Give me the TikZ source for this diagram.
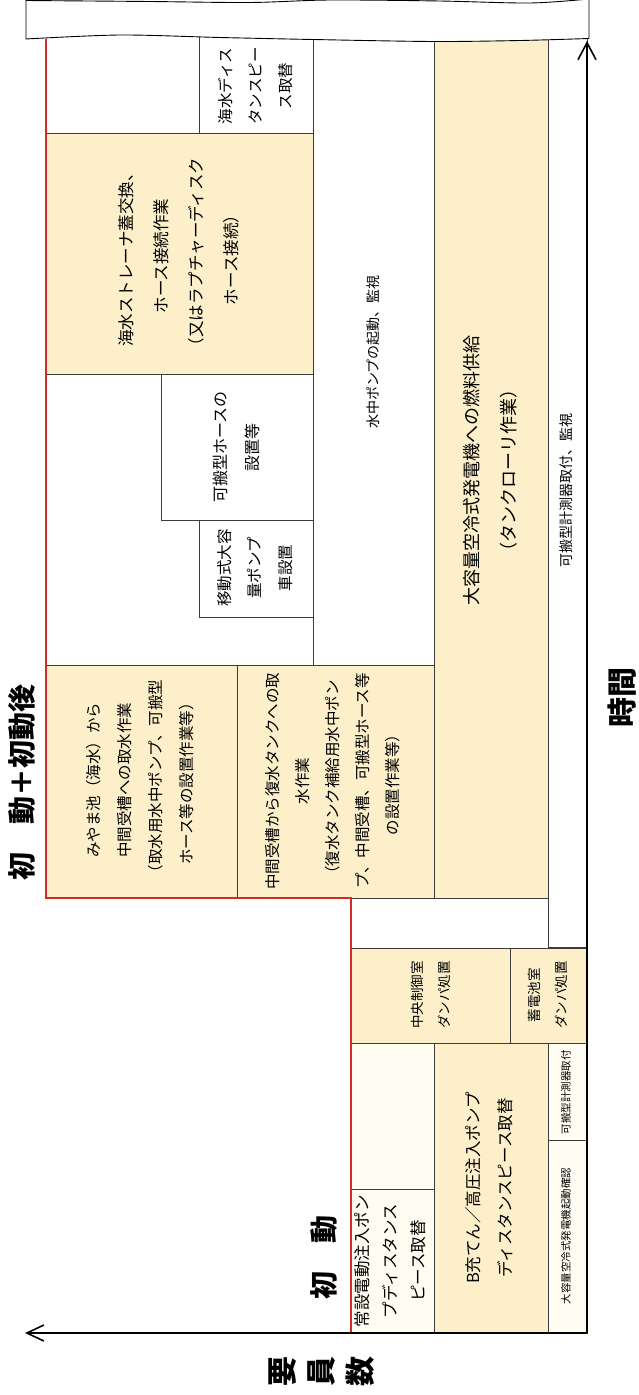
\documentclass[tikz,border=0pt]{standalone}
\usepackage{fontspec}
\setmainfont{Noto Sans CJK JP}
\usetikzlibrary{arrows.meta}
\definecolor{yel}{HTML}{FCEFCA}
\definecolor{crm}{HTML}{FFFDF2}
\definecolor{bd}{HTML}{3C3C3C}
\definecolor{redl}{HTML}{D42A2A}
\begin{document}
\begin{tikzpicture}[x=1pt,y=-1pt,
  yb/.style={fill=yel,draw=bd,line width=0.8pt},
  cb/.style={fill=crm,draw=bd,line width=0.8pt},
  wb/.style={fill=white,draw=bd,line width=0.8pt},
  lbl/.style={rotate=90,align=center,inner sep=0pt,text=black},
  big/.style={rotate=90,align=center,inner sep=0pt,font=\bfseries\fontsize{28}{30}\selectfont},
  axis/.style={line width=1.6pt,draw=black}
]
\useasboundingbox (0,0) rectangle (638,1395);
% boxes
\path[wb] (199,30) rectangle (313,133);
\path[yb] (46,133) rectangle (313,374);
\path[wb] (161,374) rectangle (313,520);
\path[wb] (199,520) rectangle (313,617);
\path[wb] (313,30) rectangle (434,665);
\path[yb] (434,30) rectangle (548,898);
\path[wb] (548,30) rectangle (587,947);
\path[yb] (46,665) rectangle (237,898);
\path[yb] (237,665) rectangle (434,898);
\path[yb] (351,948) rectangle (510,1043);
\path[yb] (510,948) rectangle (587,1043);
\path[cb] (351,1043) rectangle (434,1189);
\path[cb] (351,1189) rectangle (434,1333);
\path[yb] (434,1043) rectangle (548,1333);
\path[cb] (548,1043) rectangle (587,1140);
\path[cb] (548,1140) rectangle (587,1333);
% texts
\node[lbl,font=\fontsize{15.5}{30}\selectfont] (tseadist) at (256,86) {海水ディス\\タンスピー\\ス取替};
\node[lbl,font=\fontsize{16.5}{35}\selectfont] (tstrainer) at (179,256) {海水ストレーナ蓋交換、\\ホース接続作業\\（又はラプチャーディスク\\ホース接続）};
\node[lbl,font=\fontsize{16}{32}\selectfont] (those) at (236,447) {可搬型ホースの\\設置等};
\node[lbl,font=\fontsize{15.5}{30.5}\selectfont] (tmobile) at (255,568) {移動式大容\\量ポンプ\\車設置};
\node[lbl,font=\fontsize{14}{16}\selectfont] (tsub) at (373,352) {水中ポンプの起動、監視};
\node[lbl,font=\fontsize{18}{37}\selectfont] (tfuel) at (490,470) {大容量空冷式発電機への燃料供給\\（タンクローリ作業）};
\node[lbl,font=\fontsize{14}{16}\selectfont] (tmeas1) at (566,490) {可搬型計測器取付、監視};
\node[lbl,font=\fontsize{15.5}{31}\selectfont] (tmiyama) at (140,780) {みやま池（海水）から\\中間受槽への取水作業\\（取水用水中ポンプ、可搬型\\ホース等の設置作業等）};
\node[lbl,font=\fontsize{15.5}{30}\selectfont] (tcst) at (333,781) {中間受槽から復水タンクへの取\\水作業\\（復水タンク補給用水中ポン\\プ、中間受槽、可搬型ホース等\\の設置作業等）};
\node[lbl,font=\fontsize{13.5}{27}\selectfont] (tmcr) at (431,995) {中央制御室\\ダンパ処置};
\node[lbl,font=\fontsize{13.5}{27}\selectfont] (tbatt) at (548,995) {蓄電池室\\ダンパ処置};
\node[lbl,font=\fontsize{16.5}{28}\selectfont] (tpump) at (390,1261) {常設電動注入ポン\\プディスタンス\\ピース取替};
\node[lbl,font=\fontsize{16.5}{32}\selectfont] (tbchg) at (489,1188) {B充てん／高圧注入ポンプ\\ディスタンスピース取替};
\node[lbl,font=\fontsize{10.5}{12}\selectfont] (tmeas2) at (566,1092) {可搬型計測器取付};
\node[lbl,font=\fontsize{10.5}{12}\selectfont] (tdg) at (566,1236) {大容量空冷式発電機起動確認};
% red boundary
\draw[redl,line width=2pt] (46,39) -- (46,898) -- (351,898) -- (351,1333);
% wavy band
\draw[fill=white,draw=black,line width=0.9pt]
  plot[smooth] coordinates {(26,39) (120,35) (220,37.5) (313,39.5) (433,41.5) (520,40.5) (589,38.5)}
  -- plot[smooth] coordinates {(589,-1) (530,3) (440,1) (330,0) (250,2.5) (150,1.5) (26,0.5)}
  -- cycle;
% axes
\coordinate (O) at (587,1333);
\coordinate (tend) at (587,41);
\coordinate (pend) at (25,1333);
\draw[axis,-{Straight Barb[length=17pt,width=18pt]}] (O) -- (tend);
\draw[axis,-{Straight Barb[length=17pt,width=16pt]}] (O) -- (pend);
% labels
\node[big] (lab1) at (22,782) {初　動＋初動後};
\node[big] (lab2) at (324,1257) {初　動};
\node[big,font=\bfseries\fontsize{30}{39}\selectfont] (lab3) at (322,1371) {要\\員\\数};
\node[big,font=\bfseries\fontsize{30}{32}\selectfont] (lab4) at (622,697) {時間};
\end{tikzpicture}
\end{document}
